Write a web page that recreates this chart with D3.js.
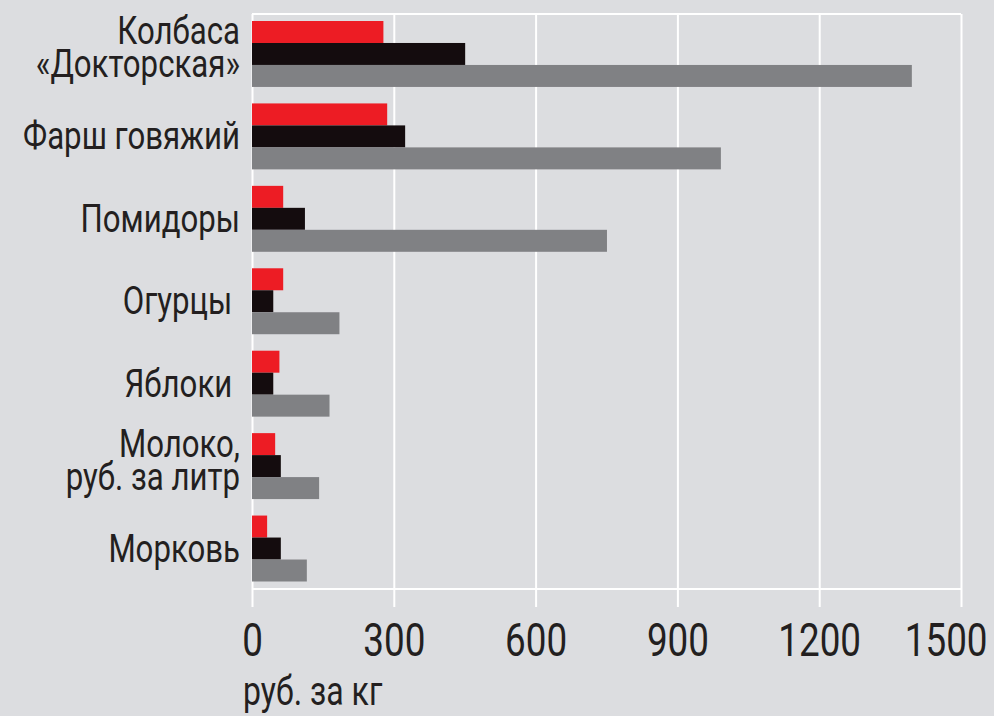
<!DOCTYPE html>
<html>
<head>
<meta charset="utf-8">
<script src="https://cdn.jsdelivr.net/npm/d3@7"></script>
<style>
  html, body { margin: 0; padding: 0; background: #dcdde0; }
  svg { display: block; }
  text { font-family: Roboto, "Noto Sans", sans-serif; fill: #231f20; }
</style>
</head>
<body>
<svg></svg>
<script>
const categories = [
    ['Колбаса', '«Докторская»'],
    ['Фарш говяжий'],
    ['Помидоры'],
    ['Огурцы\u00a0'],
    ['Яблоки\u00a0'],
    ['Молоко,', 'руб. за литр'],
    ['Морковь']
];
const redValues = [278, 286, 66, 66, 58, 49, 32];
const blackValues = [451, 324, 112, 45, 45, 61, 61];
const grayValues = [1396, 992, 751, 185, 164, 142, 116];
const tickValues = [0, 300, 600, 900, 1200, 1500];
const unitLabel = 'руб. за кг';

const size = {w: 994, h: 716};
const plot = {l: 252, r: 961, t: 14, b: 589};
const sx = 0.8; // condensed look
const svg = d3.select('svg')
    .attr('width', size.w)
    .attr('height', size.h);

svg.append('rect')
    .attr('width', size.w)
    .attr('height', size.h)
    .attr('fill', '#dcdde0');

const x = d3.scaleLinear()
    .domain([0, 1500])
    .range([plot.l, plot.r]);

const y = d3.scaleBand()
    .domain(d3.range(categories.length))
    .range([21, 581.5])
    .paddingInner(0.2)
    .paddingOuter(0);

const series = [
    {values: redValues, color: '#ed1c24'},
    {values: blackValues, color: '#140c0e'},
    {values: grayValues, color: '#808184'}
];

const ySub = d3.scaleBand()
    .domain(d3.range(series.length))
    .range([0, y.bandwidth()]);

// grid + axis
const axis = d3.axisBottom(x)
    .tickValues(tickValues)
    .tickSize(-(607 - plot.t))
    .tickPadding(16)
    .tickFormat(d3.format('d'));

const axisG = svg.append('g')
    .attr('transform', `translate(0,607)`)
    .call(axis);
axisG.select('.domain').remove();
axisG.selectAll('.tick line')
    .attr('stroke', '#fff')
    .attr('stroke-width', 2);
axisG.selectAll('.tick text')
    .style('font-size', '46px')
    .attr('fill', '#231f20')
    .attr('transform', `scale(${sx},1)`);
axisG.selectAll('.tick:last-child text')
    .attr('text-anchor', 'end')
    .attr('dx', 26 / sx);

[plot.t, plot.b].forEach(v => {
    svg.append('line')
        .attr('x1', plot.l).attr('x2', plot.r)
        .attr('y1', v).attr('y2', v)
        .attr('stroke', '#fff')
        .attr('stroke-width', 2);
});

// bars
const groups = svg.append('g').selectAll('g')
    .data(categories)
    .enter()
    .append('g')
    .attr('transform', (d, i) => `translate(0,${y(i)})`);

groups.selectAll('rect')
    .data((d, i) => series.map((s, j) => ({j: j, v: s.values[i], color: s.color})))
    .enter()
    .append('rect')
    .attr('x', x(0))
    .attr('y', d => ySub(d.j))
    .attr('width', d => x(d.v) - x(0))
    .attr('height', ySub.bandwidth())
    .attr('fill', d => d.color);

// category labels
groups.append('text')
    .attr('text-anchor', 'end')
    .attr('transform', `translate(240,0) scale(${sx},1)`)
    .style('font-size', '39px')
    .selectAll('tspan')
    .data(d => d.map((line, k) => ({line: line, k: k, n: d.length})))
    .enter()
    .append('tspan')
    .attr('x', 0)
    .attr('y', d => {
        const c = y.bandwidth() / 2;
        return d.n === 1 ? c + 13 : c - 9.5 + d.k * 33;
    })
    .text(d => d.line);

svg.append('text')
    .attr('transform', `translate(243,705) scale(${sx},1)`)
    .style('font-size', '40px')
    .text(unitLabel);
</script>
</body>
</html>
